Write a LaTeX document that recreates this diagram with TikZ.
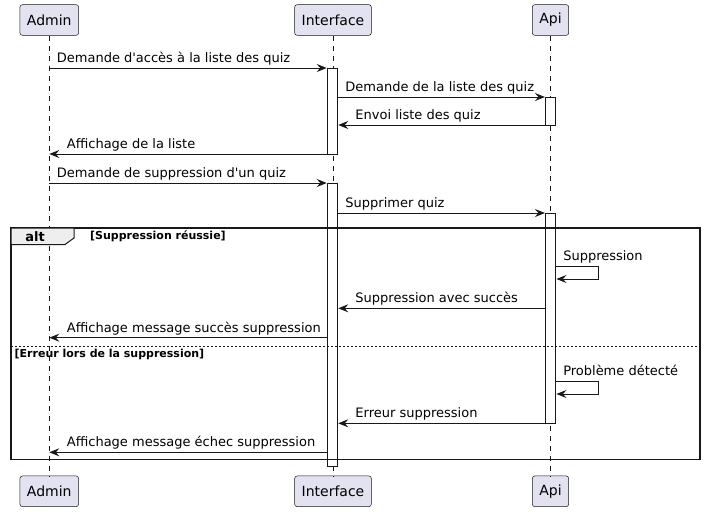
\documentclass[tikz,border=0pt]{standalone}
\usepackage{fontspec}
\setmainfont{DejaVu Sans}
\usetikzlibrary{arrows.meta}
\definecolor{umlline}{HTML}{181818}
\definecolor{umlbox}{HTML}{E2E2F0}
\definecolor{umltab}{HTML}{EEEEEE}
\tikzset{
    actor-box/.style = {draw=umlline, fill=umlbox, line width=0.5pt, rectangle, rounded corners=2.5pt, minimum height=30.7pt, inner xsep=7pt, font=\fontsize{14}{16}\selectfont},
    life-line/.style = {draw=umlline, line width=0.5pt, dash pattern=on 5pt off 5pt},
    act-bar/.style = {draw=umlline, fill=white, line width=1pt, rectangle, minimum width=10.5pt, inner sep=0pt},
    msg/.style = {draw=umlline, line width=1pt, -{Stealth[length=10pt,width=8pt,inset=3.5pt]}},
    msg-label/.style = {inner sep=0pt, anchor=base west, font=\fontsize{13}{15}\selectfont},
    guard/.style = {inner sep=0pt, anchor=base west, font=\bfseries\fontsize{11}{13}\selectfont},
}

\begin{document}
\begin{tikzpicture}[x=1pt, y=-1pt]
\useasboundingbox (0,0) rectangle (705,512);
% participants
\node [actor-box] (admin) at (49.3,20) {Admin};
\node [actor-box] (iface) at (333,20) {Interface};
\node [actor-box] (api) at (550.5,20) {Api};
\node [actor-box] (admin-b) at (49.3,491.3) {Admin};
\node [actor-box] (iface-b) at (333,491.3) {Interface};
\node [actor-box] (api-b) at (550.5,491.3) {Api};
\draw [life-line] (admin) -- (admin-b);
\draw [life-line] (iface) -- (iface-b);
\draw [life-line] (api) -- (api-b);

% activations
\node [act-bar, minimum height=86pt] (ifa1) at (332.5,111) {};
\node [act-bar, minimum height=28pt] (api1) at (550.7,111) {};
\node [act-bar, minimum height=283.7pt] (ifa2) at (332.5,324.85) {};
\node [act-bar, minimum height=210.3pt] (api2) at (550.7,318.15) {};

% rows
\coordinate (r1) at (0,68);
\coordinate (r2) at (0,97);
\coordinate (r3) at (0,125);
\coordinate (r4) at (0,154);
\coordinate (r5) at (0,183);
\coordinate (r6) at (0,213);
\coordinate (r7) at (0,266.7);
\coordinate (r7b) at (0,279);
\coordinate (r8) at (0,308.3);
\coordinate (r9) at (0,337.7);
\coordinate (r10) at (0,381.7);
\coordinate (r10b) at (0,394);
\coordinate (r11) at (0,423.3);
\coordinate (r12) at (0,452.3);

% alt frame
\draw [draw=umlline, line width=1.5pt] (11,228) rectangle (700,459.3);
\draw [draw=umlline, line width=1pt, fill=umltab] (11,228) -- (74,228) -- (74,238) -- (65,244.5) -- (11,244.5) -- cycle;
\node [font=\bfseries\fontsize{13}{15}\selectfont, inner sep=0pt] (alt) at (35,236.3) {alt};
\node [guard] (g1) at (90,239.5) {[Suppression réussie]};
\draw [draw=umlline, line width=1pt, dash pattern=on 2pt off 2pt] (11,346) -- (700,346);
\node [guard] (g2) at (14.5,357) {[Erreur lors de la suppression]};

% messages
\draw [msg] (admin |- r1) -- (ifa1.west |- r1);
\node [msg-label] (t1) at ([xshift=7.4pt, yshift=5.7pt]admin |- r1) {Demande d\textquotesingle accès à la liste des quiz};
\draw [msg] (ifa1.east |- r2) -- (api1.west |- r2);
\node [msg-label] (t2) at ([xshift=7pt, yshift=5.7pt]ifa1.east |- r2) {Demande de la liste des quiz};
\draw [msg] (api1.west |- r3) -- (ifa1.east |- r3);
\node [msg-label] (t3) at ([xshift=17pt, yshift=5.7pt]ifa1.east |- r3) {Envoi liste des quiz};
\draw [msg] (ifa1.west |- r4) -- (admin |- r4);
\node [msg-label] (t4) at ([xshift=17.4pt, yshift=5.7pt]admin |- r4) {Affichage de la liste};
\draw [msg] (admin |- r5) -- (ifa2.west |- r5);
\node [msg-label] (t5) at ([xshift=7.4pt, yshift=5.7pt]admin |- r5) {Demande de suppression d\textquotesingle un quiz};
\draw [msg] (ifa2.east |- r6) -- (api2.west |- r6);
\node [msg-label] (t6) at ([xshift=7pt, yshift=5.7pt]ifa2.east |- r6) {Supprimer quiz};
\draw [msg] (api2.east |- r7) -- ++(41.6,0) |- (api2.east |- r7b);
\node [msg-label] (t7) at ([xshift=6.6pt, yshift=6pt]api2.east |- r7) {Suppression};
\draw [msg] (api2.west |- r8) -- (ifa2.east |- r8);
\node [msg-label] (t8) at ([xshift=17pt, yshift=5.7pt]ifa2.east |- r8) {Suppression avec succès};
\draw [msg] (ifa2.west |- r9) -- (admin |- r9);
\node [msg-label] (t9) at ([xshift=17.4pt, yshift=5.7pt]admin |- r9) {Affichage message succès suppression};
\draw [msg] (api2.east |- r10) -- ++(41.6,0) |- (api2.east |- r10b);
\node [msg-label] (t10) at ([xshift=6.6pt, yshift=6pt]api2.east |- r10) {Problème détecté};
\draw [msg] (api2.west |- r11) -- (ifa2.east |- r11);
\node [msg-label] (t11) at ([xshift=17pt, yshift=5.7pt]ifa2.east |- r11) {Erreur suppression};
\draw [msg] (ifa2.west |- r12) -- (admin |- r12);
\node [msg-label] (t12) at ([xshift=17.4pt, yshift=5.7pt]admin |- r12) {Affichage message échec suppression};
\end{tikzpicture}
\end{document}
